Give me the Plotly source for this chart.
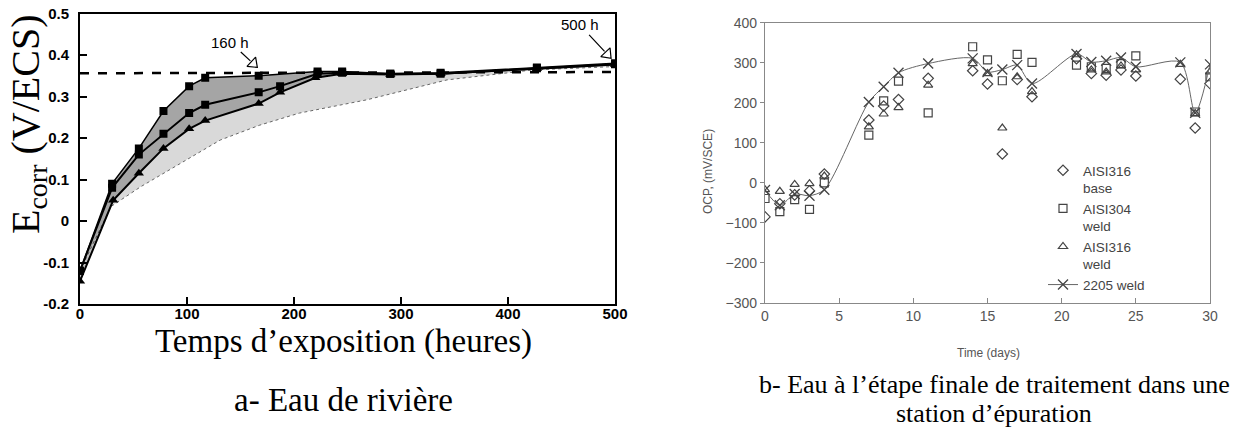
import plotly.graph_objects as go
import math

# ---------------- Left chart data (Ecorr vs exposure time) ----------------
t_top = [0, 30, 55, 78, 102, 117, 167, 222, 245, 290, 337, 427, 500]
v_top = [-0.12, 0.09, 0.175, 0.265, 0.325, 0.345, 0.35, 0.36, 0.36, 0.355, 0.357, 0.37, 0.38]

t_mid = [0, 30, 55, 78, 102, 117, 167, 187, 222, 245, 290, 337, 427, 500]
v_mid = [-0.12, 0.08, 0.16, 0.21, 0.26, 0.28, 0.31, 0.325, 0.355, 0.357, 0.355, 0.355, 0.368, 0.378]

t_bot = [0, 31, 55, 78, 102, 117, 167, 187, 220, 245, 290, 337, 427, 500]
v_bot = [-0.145, 0.05, 0.115, 0.175, 0.222, 0.242, 0.283, 0.31, 0.345, 0.355, 0.353, 0.355, 0.367, 0.377]

t_env = [0, 29, 57, 94, 131, 168, 205, 268, 343, 423, 498]
v_env = [-0.12, 0.035, 0.083, 0.14, 0.195, 0.231, 0.26, 0.292, 0.34, 0.364, 0.372]

t_dash = [0, 500]
v_dash = [0.356, 0.359]

left_xticks = [0, 100, 200, 300, 400, 500]
left_yticks = [-0.2, -0.1, 0, 0.1, 0.2, 0.3, 0.4, 0.5]
left_yticklabels = ["-0.2", "-0.1", "0", "0.1", "0.2", "0.3", "0.4", "0.5"]

# ---------------- Right chart data (OCP vs time) ----------------
d_2205 = [0, 1, 2, 3, 4, 7, 8, 9, 11, 14, 15, 16, 17, 18, 21, 22, 23, 24, 25, 28, 29, 30]
v_2205 = [-18, -56, -28, -32, -17, 202, 240, 275, 298, 311, 277, 283, 294, 248, 322, 302, 305, 313, 290, 301, 175, 296]

d_316b = [0, 1, 2, 3, 4, 7, 8, 9, 11, 14, 15, 16, 17, 18, 21, 22, 23, 24, 25, 28, 29, 30]
v_316b = [-85, -52, -30, -20, 22, 157, 192, 208, 261, 280, 247, 72, 258, 215, 310, 273, 269, 282, 267, 259, 137, 248]

d_304w = [0, 1, 2, 3, 4, 7, 8, 9, 11, 14, 15, 16, 17, 18, 21, 22, 23, 24, 25, 29, 30]
v_304w = [-39, -72, -42, -66, 0, 119, 205, 254, 175, 340, 307, 255, 321, 301, 294, 290, 286, 298, 317, 177, 265]

d_316w = [0, 1, 2, 3, 4, 7, 8, 9, 11, 14, 15, 16, 17, 18, 21, 22, 23, 24, 25, 28, 29, 30]
v_316w = [-17, -21, -4, -2, 17, 140, 172, 188, 244, 298, 273, 137, 265, 228, 320, 282, 277, 292, 282, 296, 173, 277]

right_xticks = [0, 5, 10, 15, 20, 25, 30]
right_yticks = [-300, -200, -100, 0, 100, 200, 300, 400]

W, H = 1255, 444
def px(x):
    return x / W
def py(y):
    return 1 - y / H

fig = go.Figure()

# --- left: shaded band ---
fig.add_trace(go.Scatter(x=t_env, y=v_env, mode="lines", xaxis="x", yaxis="y",
                         line=dict(color="#666", width=1, dash="dot"), showlegend=False, hoverinfo="skip"))
fig.add_trace(go.Scatter(x=t_top, y=v_top, mode="lines", xaxis="x", yaxis="y",
                         line=dict(color="rgba(0,0,0,0)", width=0), fill="tonexty",
                         fillcolor="rgba(0,0,0,0.15)", showlegend=False, hoverinfo="skip"))
fig.add_trace(go.Scatter(x=t_bot, y=v_bot, mode="lines", xaxis="x", yaxis="y",
                         line=dict(color="rgba(0,0,0,0)", width=0), showlegend=False, hoverinfo="skip"))
fig.add_trace(go.Scatter(x=t_top, y=v_top, mode="lines", xaxis="x", yaxis="y",
                         line=dict(color="rgba(0,0,0,0)", width=0), fill="tonexty",
                         fillcolor="rgba(0,0,0,0.24)", showlegend=False, hoverinfo="skip"))
# dashed reference line
fig.add_trace(go.Scatter(x=t_dash, y=v_dash, mode="lines", xaxis="x", yaxis="y",
                         line=dict(color="black", width=2.5, dash="dash"), showlegend=False, hoverinfo="skip"))
# series
fig.add_trace(go.Scatter(x=t_bot, y=v_bot, mode="lines+markers", xaxis="x", yaxis="y",
                         line=dict(color="black", width=2),
                         marker=dict(symbol="triangle-up", size=9, color="black"), showlegend=False))
fig.add_trace(go.Scatter(x=t_mid, y=v_mid, mode="lines+markers", xaxis="x", yaxis="y",
                         line=dict(color="black", width=2),
                         marker=dict(symbol="square", size=8, color="black"), showlegend=False))
fig.add_trace(go.Scatter(x=t_top, y=v_top, mode="lines+markers", xaxis="x", yaxis="y",
                         line=dict(color="black", width=1.5),
                         marker=dict(symbol="square", size=8, color="black"), showlegend=False))

# arrows with open heads
arrows = [("160 h", 165.4, 0.371, -27, -25), ("500 h", 496, 0.393, -31, -33)]
xs_per_px = 500 / 535.0
ys_per_px = 0.7 / 290.5
annotations = []
for txt, hx, hy, ax, ay in arrows:
    annotations.append(dict(x=hx, y=hy, xref="x", yref="y", text=txt, showarrow=True,
                            ax=ax, ay=ay, arrowhead=0, arrowwidth=1.2, arrowcolor="black",
                            standoff=9, font=dict(family="Liberation Sans, Arial", size=15, color="black")))
    L = math.hypot(ax, ay)
    ux, uy = -ax / L, -ay / L  # direction toward head (screen, y down)
    cx = hx - ux * 5 * xs_per_px
    cy = hy + uy * 5 * ys_per_px
    ang = math.degrees(math.atan2(ux, -uy))
    fig.add_trace(go.Scatter(x=[cx], y=[cy], mode="markers", xaxis="x", yaxis="y",
                             marker=dict(symbol="triangle-up-open", size=11, angle=ang,
                                         color="black", line=dict(width=1.2, color="black")),
                             showlegend=False, hoverinfo="skip"))

# --- right chart ---
gray_m = "#444"
fig.add_trace(go.Scatter(x=d_316b, y=v_316b, mode="markers", xaxis="x2", yaxis="y2",
                         name="AISI316<br>base",
                         marker=dict(symbol="diamond-open", size=8, color=gray_m, line=dict(width=1.2))))
fig.add_trace(go.Scatter(x=d_304w, y=v_304w, mode="markers", xaxis="x2", yaxis="y2",
                         name="AISI304<br>weld",
                         marker=dict(symbol="square-open", size=8, color=gray_m, line=dict(width=1.2))))
fig.add_trace(go.Scatter(x=d_316w, y=v_316w, mode="markers", xaxis="x2", yaxis="y2",
                         name="AISI316<br>weld",
                         marker=dict(symbol="triangle-up-open", size=8, color=gray_m, line=dict(width=1.2))))
fig.add_trace(go.Scatter(x=d_2205, y=v_2205, mode="lines+markers", xaxis="x2", yaxis="y2",
                         name="2205 weld", line=dict(color="#666", width=1, shape="spline", smoothing=0.8),
                         marker=dict(symbol="x-thin-open", size=10, color=gray_m, line=dict(width=1.3, color=gray_m))))

serif = "Liberation Serif, Times New Roman, serif"
sans = "Liberation Sans, Arial, sans-serif"

annotations += [
    dict(text="E<sub>corr</sub> (V/ECS)", x=px(28), y=py(124), xref="paper", yref="paper",
         textangle=-90, showarrow=False, xanchor="center", yanchor="middle",
         font=dict(family=serif, size=40, color="black")),
    dict(text="Temps d’exposition (heures)", x=px(343), y=py(341), xref="paper", yref="paper",
         showarrow=False, xanchor="center", yanchor="middle",
         font=dict(family=serif, size=33, color="black")),
    dict(text="a- Eau de rivière", x=px(343), y=py(400), xref="paper", yref="paper",
         showarrow=False, xanchor="center", yanchor="middle",
         font=dict(family=serif, size=33, color="black")),
    dict(text="b- Eau à l’étape finale de traitement dans une", x=px(994), y=py(384), xref="paper", yref="paper",
         showarrow=False, xanchor="center", yanchor="middle",
         font=dict(family=serif, size=26, color="black")),
    dict(text="station d’épuration", x=px(994), y=py(413), xref="paper", yref="paper",
         showarrow=False, xanchor="center", yanchor="middle",
         font=dict(family=serif, size=26, color="black")),
    dict(text="OCP, (mV/SCE)", x=px(708), y=py(172), xref="paper", yref="paper",
         textangle=-90, showarrow=False, xanchor="center", yanchor="middle",
         font=dict(family=sans, size=12, color="#555")),
    dict(text="Time (days)", x=px(988), y=py(353), xref="paper", yref="paper",
         showarrow=False, xanchor="center", yanchor="middle",
         font=dict(family=sans, size=12, color="#555")),
]

fig.update_layout(
    width=W, height=H,
    margin=dict(l=0, r=0, t=0, b=0, pad=0),
    paper_bgcolor="white", plot_bgcolor="white",
    annotations=annotations,
    xaxis=dict(domain=[px(80), px(615)], range=[0, 500], tickvals=left_xticks, automargin=False,
               showgrid=False, zeroline=False, showline=True, mirror=True, linecolor="black", linewidth=2,
               ticks="inside", ticklen=7, tickwidth=2, tickcolor="black", ticklabelstandoff=-5,
               tickfont=dict(family=sans, size=15, color="black", weight="bold")),
    yaxis=dict(domain=[py(304), py(13.5)], range=[-0.2, 0.5], tickvals=left_yticks, ticktext=left_yticklabels,
               automargin=False,
               showgrid=False, zeroline=False, showline=True, mirror=True, linecolor="black", linewidth=2,
               ticks="inside", ticklen=7, tickwidth=2, tickcolor="black", ticklabelstandoff=6,
               tickfont=dict(family=sans, size=15, color="black", weight="bold")),
    xaxis2=dict(domain=[px(765), px(1210)], range=[0, 30], tickvals=right_xticks, anchor="y2", automargin=False,
                showgrid=False, zeroline=False, showline=True, mirror=True, linecolor="#888", linewidth=1.2,
                ticks="inside", ticklen=5, tickcolor="#888",
                tickfont=dict(family=sans, size=14, color="#555")),
    yaxis2=dict(domain=[py(303), py(22.7)], range=[-300, 400], tickvals=right_yticks, anchor="x2",
                automargin=False,
                showgrid=False, zeroline=False, showline=True, mirror=True, linecolor="#888", linewidth=1.2,
                ticks="outside", ticklen=4, tickcolor="#888",
                tickfont=dict(family=sans, size=14, color="#555")),
    legend=dict(x=px(1043), y=py(155), xanchor="left", yanchor="top", bgcolor="rgba(0,0,0,0)",
                font=dict(family=sans, size=13.5, color="#444"), valign="top", tracegroupgap=0,
                itemwidth=30, traceorder="normal"),
    showlegend=True,
)

fig.write_html("out.html", config={"displayModeBar": False},
               post_script="document.body.style.margin='0px';document.body.style.overflow='hidden';")
